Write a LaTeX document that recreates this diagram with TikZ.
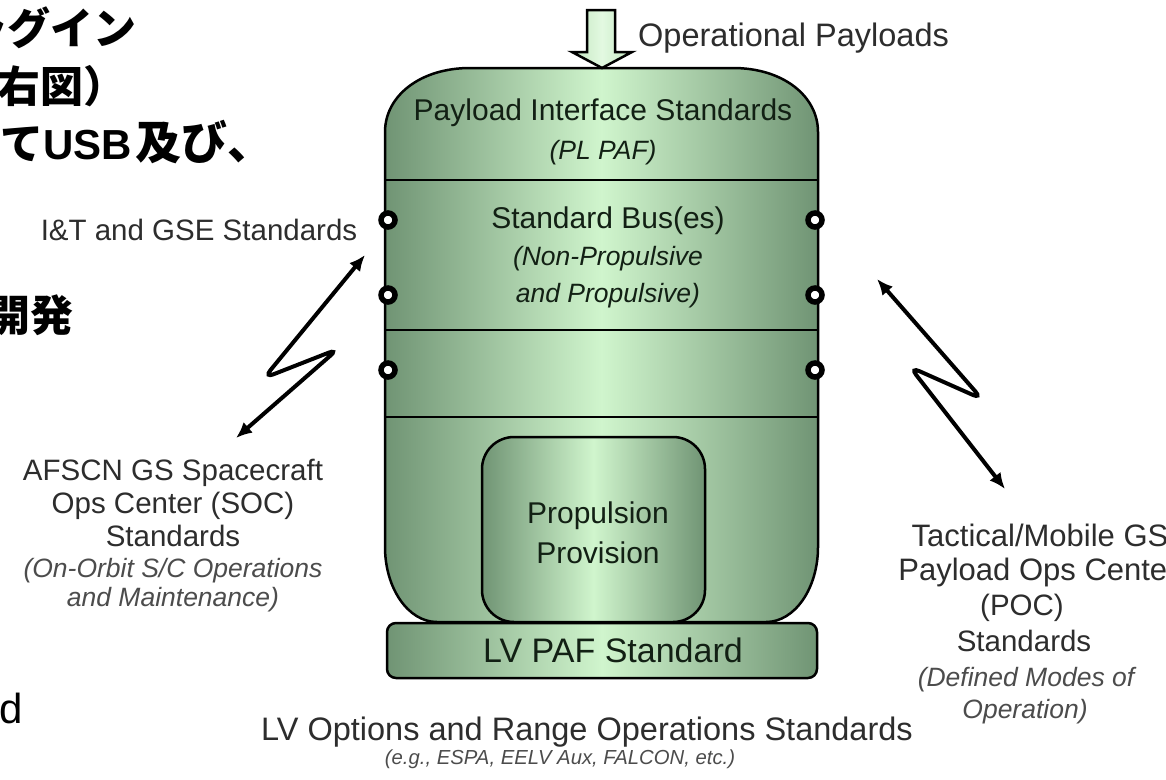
\documentclass[tikz,border=0pt]{standalone}
\usepackage{fontspec}
\setmainfont{Liberation Sans}
\newfontfamily\jpfont{Noto Sans CJK JP}
\newfontfamily\latb{Liberation Sans}
\usetikzlibrary{arrows.meta}
\definecolor{gEdge}{RGB}{112,148,116}
\definecolor{gMid}{RGB}{208,245,205}
\definecolor{txtGray}{RGB}{45,45,45}
\definecolor{txtGreen}{RGB}{18,32,20}
\begin{document}
\begin{tikzpicture}[x=1pt,y=-1pt,
  greenfill/.style={left color=gEdge, right color=gEdge, middle color=gMid},
  outl/.style={draw=black, line width=2.5pt},
  port/.style={circle, draw=black, fill=white, line width=5.5pt, minimum size=14pt, inner sep=0pt},
  sideT/.style={font=\fontsize{29.5}{33}\selectfont, text=txtGray, inner sep=0pt, anchor=base},
  sideI/.style={font=\fontsize{26.5}{30}\selectfont\itshape, text=txtGray!85, inner sep=0pt, anchor=base},
  bodyT/.style={font=\fontsize{30}{33}\selectfont, text=txtGreen, inner sep=0pt, anchor=base},
  bodyI/.style={font=\fontsize{26.5}{30}\selectfont\itshape, text=txtGreen, inner sep=0pt, anchor=base},
  jpT/.style={font=\jpfont\bfseries\fontsize{43}{48}\selectfont, text=black, inner sep=0pt},
  zig/.style={line width=4pt, rounded corners=10pt, {Latex[length=16pt,width=14pt]}-{Latex[length=16pt,width=14pt]}}
]
\useasboundingbox (0,0) rectangle (1166,779);
\clip (0,0) rectangle (1166,779);
\fill[white] (0,0) rectangle (1166,779);

% slide text remnants
\node[jpT, anchor=base east] (jp1) at (137,44) {プラグイン};
\node[jpT, anchor=base west] (jp2) at (-3,102) {右図）};
\node[jpT, anchor=base west] (jp3) at (0,159) {て{\latb\bfseries\fontsize{42}{48}\selectfont USB}\hspace{4pt}{\fontsize{46}{48}\selectfont 及び、}};
\node[jpT, anchor=base east] (jp4) at (74,331) {開発};
\node[font=\fontsize{42}{44}\selectfont, inner sep=0pt, anchor=base west] (dd) at (-1,723) {d};

% main body
\path[greenfill, outl]
  (385,132) .. controls (385,96) and (420,68) .. (470,68)
  -- (733,68) .. controls (783,68) and (818,96) .. (818,132)
  -- (818,547) .. controls (818,588) and (795,622) .. (766,622)
  -- (437,622) .. controls (408,622) and (385,588) .. (385,547) -- cycle;
\coordinate (bl1) at (385,180); \coordinate (br1) at (818,180);
\coordinate (bl2) at (385,330); \coordinate (br2) at (818,330);
\coordinate (bl3) at (385,417); \coordinate (br3) at (818,417);
\draw[line width=2.5pt] (bl1) -- (br1);
\draw[line width=2.5pt] (bl2) -- (br2);
\draw[line width=2.5pt] (bl3) -- (br3);

% propulsion box
\node[greenfill, outl, rounded corners=32pt, minimum width=223pt, minimum height=185pt, inner sep=0pt] (prop) at (593.5,529.5) {};
% LV PAF box
\node[greenfill, outl, rounded corners=9pt, minimum width=430pt, minimum height=55pt, inner sep=0pt] (lvpaf) at (602,650.5) {};

% ports
\foreach \yy/\nm in {220/a,295/b,370/c}{
  \node[port] (pl\nm) at (388,\yy) {};
  \node[port] (pr\nm) at (815,\yy) {};
}

% top block arrow
\path[left color=gMid!85!gEdge, right color=gMid!85!gEdge, middle color=gMid!60!white, draw=black, line width=2.5pt, line join=miter]
  (587,10) -- (615,10) -- (615,52) -- (632,52) -- (602,68) -- (572,52) -- (587,52) -- cycle;
\node[sideT, anchor=base west, font=\fontsize{32.5}{33}\selectfont, text=txtGray] (oppl) at (638,46) {Operational Payloads};

% body texts
\node[bodyT] (plis) at (603,120) {Payload Interface Standards};
\node[bodyI] (plpaf) at (603,159) {(PL PAF)};
\node[bodyT] (sbus) at (608,228) {Standard Bus(es)};
\node[bodyI] (nonp) at (608,265) {(Non-Propulsive};
\node[bodyI] (andp) at (608,302) {and Propulsive)};
\node[bodyT] (propa) at (598,523) {Propulsion};
\node[bodyT] (propb) at (598,563) {Provision};
\node[bodyT, font=\fontsize{34}{36}\selectfont] (lvt) at (613,662) {LV PAF Standard};

% left side texts
\node[sideT] (itg) at (199,240) {I\&T and GSE Standards};
\node[sideT] (afa) at (173,480) {AFSCN GS Spacecraft};
\node[sideT] (afb) at (173,513) {Ops Center (SOC)};
\node[sideT] (afc) at (173,546) {Standards};
\node[sideI] (afd) at (173,577) {(On-Orbit S/C Operations};
\node[sideI] (afe) at (173,606) {and Maintenance)};

% right side texts
\node[sideT, font=\fontsize{31}{33}\selectfont] (tma) at (1040,546) {Tactical/Mobile GS};
\node[sideT, font=\fontsize{31}{33}\selectfont] (tmb) at (1038,580) {Payload Ops Center};
\node[sideT] (tmc) at (1022,615) {(POC)};
\node[sideT] (tmd) at (1024,651) {Standards};
\node[sideI] (tme) at (1026,686) {(Defined Modes of};
\node[sideI] (tmf) at (1025,718) {Operation)};

% bottom texts
\node[sideT, font=\fontsize{32.5}{33}\selectfont] (lvo) at (587,740) {LV Options and Range Operations Standards};
\node[sideI, font=\fontsize{20.3}{24}\selectfont\itshape] (lve) at (560,764) {(e.g., ESPA, EELV Aux, FALCON, etc.)};

% zigzag links
\coordinate (lzA) at (365,255); \coordinate (lzB) at (264,378);
\coordinate (lzC) at (338,349); \coordinate (lzD) at (236,438);
\draw[zig] (lzA) -- (lzB) -- (lzC) -- (lzD);
\coordinate (rzA) at (877,279); \coordinate (rzB) at (982,399);
\coordinate (rzC) at (910,367); \coordinate (rzD) at (1005,489);
\draw[zig] (rzA) -- (rzB) -- (rzC) -- (rzD);
\end{tikzpicture}
\end{document}
